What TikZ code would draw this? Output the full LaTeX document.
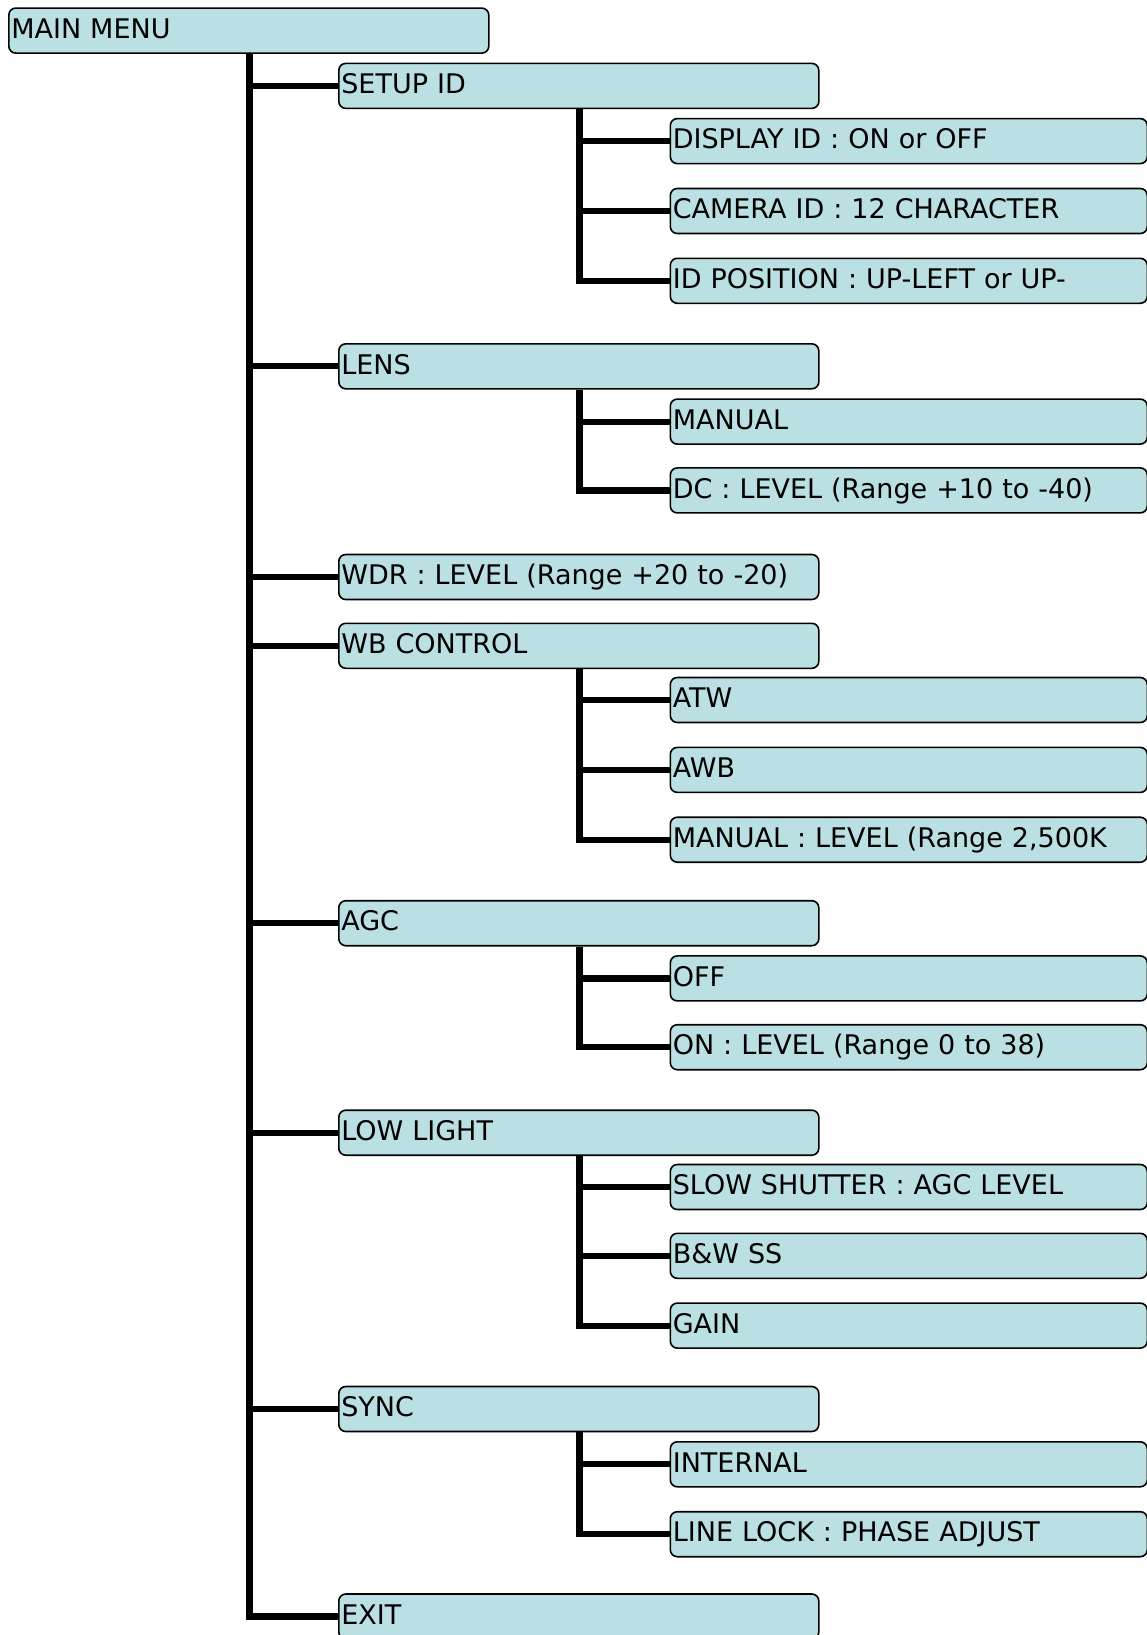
\documentclass[tikz,border=0pt]{standalone}
\usepackage{fontspec}
\setmainfont{DejaVu Sans}
\usetikzlibrary{backgrounds}
\definecolor{boxfill}{RGB}{187,224,227}
\newcommand{\menufont}{\fontsize{27}{30}\selectfont\spaceskip=11.5pt\relax}
\tikzset{
  menubox/.style={draw=black, line width=1.6pt, fill=boxfill, rounded corners=7pt,
    anchor=north west, minimum height=45pt, text width=#1, inner xsep=2.5pt,
    inner ysep=0pt, align=left, text height=19.5pt, text depth=4pt, font=\menufont},
  topbox/.style={menubox=475pt},
  subbox/.style={menubox=472pt},
  link/.style={line width=6.2pt, line join=miter, line cap=butt}
}
\begin{document}
\begin{tikzpicture}[x=1pt,y=-1pt]
\useasboundingbox (0,0) rectangle (1147,1635);
\coordinate (t1) at (249.5,0);
\coordinate (t2) at (579.5,0);

\node[topbox] (main) at (8,7.3) {MAIN MENU};

\node[topbox] (setup) at (338,62.6) {SETUP ID};
\node[subbox] (disp) at (669.5,117.8) {DISPLAY ID : ON or OFF};
\node[subbox] (cam) at (669.5,187.7) {CAMERA ID : 12 CHARACTER};
\node[subbox] (idpos) at (669.5,257.5) {ID POSITION : UP-LEFT or UP-};

\node[topbox] (lens) at (338,343) {LENS};
\node[subbox] (lman) at (669.5,398.3) {MANUAL};
\node[subbox] (dc) at (669.5,467.1) {DC : LEVEL (Range +10 to -40)};

\node[topbox] (wdr) at (338,553.7) {WDR : LEVEL (Range +20 to -20)};

\node[topbox] (wb) at (338,622.5) {WB CONTROL};
\node[subbox] (atw) at (669.5,676.7) {ATW};
\node[subbox] (awb) at (669.5,746.6) {AWB};
\node[subbox] (wman) at (669.5,816.4) {MANUAL : LEVEL (Range 2,500K};

\node[topbox] (agc) at (338,899.9) {AGC};
\node[subbox] (off) at (669.5,955.1) {OFF};
\node[subbox] (on) at (669.5,1023.9) {ON : LEVEL (Range 0 to 38)};

\node[topbox] (low) at (338,1109.4) {LOW LIGHT};
\node[subbox] (slow) at (669.5,1163.7) {SLOW SHUTTER : AGC LEVEL};
\node[subbox] (bw) at (669.5,1232.5) {B\&W SS};
\node[subbox] (gain) at (669.5,1302.3) {GAIN};

\node[topbox] (sync) at (338,1385.7) {SYNC};
\node[subbox] (int) at (669.5,1441) {INTERNAL};
\node[subbox] (line) at (669.5,1510.9) {LINE LOCK : PHASE ADJUST};

\node[topbox] (exit) at (338,1593.2) {EXIT};

\begin{scope}[on background layer]
  \foreach \c in {setup,lens,wdr,wb,agc,low,sync,exit}
    \draw[link] (main.south -| t1) |- (\c.west);
  \foreach \c in {disp,cam,idpos} \draw[link] (setup.south -| t2) |- (\c.west);
  \foreach \c in {lman,dc} \draw[link] (lens.south -| t2) |- (\c.west);
  \foreach \c in {atw,awb,wman} \draw[link] (wb.south -| t2) |- (\c.west);
  \foreach \c in {off,on} \draw[link] (agc.south -| t2) |- (\c.west);
  \foreach \c in {slow,bw,gain} \draw[link] (low.south -| t2) |- (\c.west);
  \foreach \c in {int,line} \draw[link] (sync.south -| t2) |- (\c.west);
\end{scope}
\end{tikzpicture}
\end{document}
